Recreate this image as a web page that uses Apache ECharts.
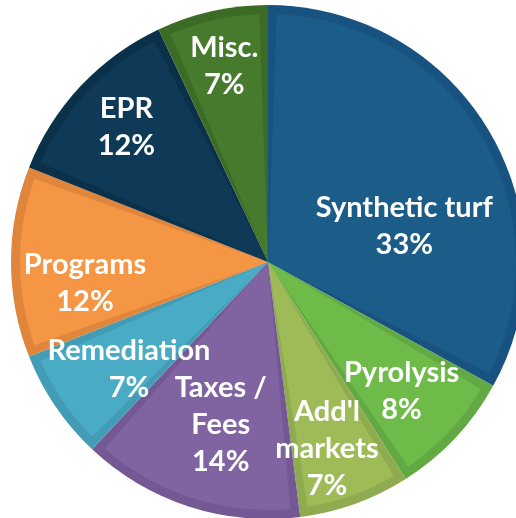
<!DOCTYPE html>
<html>
<head>
<meta charset="utf-8">
<script src="https://cdn.jsdelivr.net/npm/echarts@6/dist/echarts.min.js"></script>
<style>
  html, body { margin: 0; padding: 0; background: #fff; }
  #chart { width: 516px; height: 518px; }
</style>
</head>
<body>
<div id="chart"></div>
<script>
  // slices, clockwise from 12 o'clock
  var categories = ['Synthetic turf', 'Pyrolysis', "Add'l\nmarkets", 'Taxes /\nFees', 'Remediation', 'Programs', 'EPR', 'Misc.'];
  var values = [33, 8, 7, 14, 7, 12, 12, 7];

  var fillColors = ['#1c5c89', '#6fbb4a', '#9ebb58', '#8063a1', '#4aabc5', '#f59645', '#0f3a57', '#467a2c'];
  var edgeColors = ['#175280', '#62a843', '#8fab50', '#735894', '#429cb5', '#e0863c', '#0b3049', '#3c6b26'];
  // shift of each label away from the default inside spot
  var labelShift = [[27, 29], [41, 42], [16, 67], [-8, 42], [-34, 36], [-56, 21], [-49, -48], [-16, -72]];

  var chart = echarts.init(document.getElementById('chart'));

  var edgeData = [], fillData = [];
  for (var i = 0; i < values.length; i++) {
    edgeData.push({ name: categories[i], value: values[i], itemStyle: { color: edgeColors[i] } });
    fillData.push({ name: categories[i], value: values[i], itemStyle: { color: fillColors[i] } });
  }

  var option = {
    animation: false,
    series: [
      {
        type: 'pie',
        center: [268, 262],
        radius: [0, 257],
        startAngle: 90,
        clockwise: true,
        silent: true,
        label: { show: false },
        labelLine: { show: false },
        data: edgeData
      },
      {
        type: 'pie',
        center: [268, 262],
        radius: [0, 248],
        startAngle: 90,
        clockwise: true,
        padAngle: 4,
        silent: true,
        avoidLabelOverlap: false,
        label: {
          show: true,
          position: 'inside',
          color: '#fff',
          fontFamily: 'Lato',
          fontWeight: 'bold',
          fontSize: 29,
          lineHeight: 37,
          align: 'center',
          formatter: function (p) { return p.name + '\n' + p.value + '%'; }
        },
        labelLayout: function (p) {
          var s = labelShift[p.dataIndex];
          return { dx: s[0], dy: s[1], hideOverlap: false };
        },
        labelLine: { show: false },
        data: fillData
      }
    ]
  };
  chart.setOption(option);
</script>
</body>
</html>
